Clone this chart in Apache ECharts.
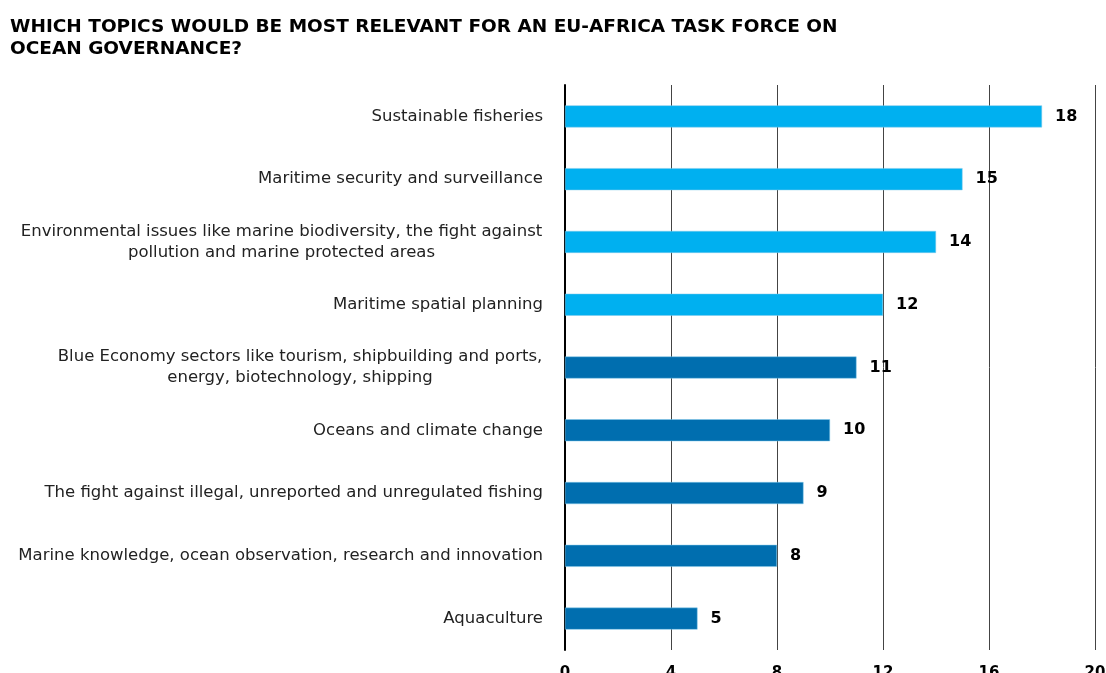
<!DOCTYPE html>
<html><head><meta charset="utf-8">
<script src="https://cdn.jsdelivr.net/npm/echarts@6/dist/echarts.min.js"></script>
<style>html,body{margin:0;padding:0;background:#fff}#c{width:1106px;height:673px}</style>
</head><body><div id="c"></div>
<script>
const categories = [
  "Sustainable fisheries",
  "Maritime security and surveillance",
  "Environmental issues like marine biodiversity, the fight against\npollution and marine protected areas",
  "Maritime spatial planning",
  "Blue Economy sectors like tourism, shipbuilding and ports,\nenergy, biotechnology, shipping",
  "Oceans and climate change",
  "The fight against illegal, unreported and unregulated fishing",
  "Marine knowledge, ocean observation, research and innovation",
  "Aquaculture"
];
const values = [18, 15, 14, 12, 11, 10, 9, 8, 5];
const highlighted = [true, true, true, true, false, false, false, false, false];
const xTicks = [0, 4, 8, 12, 16, 20];
const titleText = "WHICH TOPICS WOULD BE MOST RELEVANT FOR AN EU-AFRICA TASK FORCE ON\nOCEAN GOVERNANCE?";

const FONT = '"DejaVu Sans", Verdana, sans-serif';
const LABEL_SIZE = 16.5;
const LIGHT = '#00B0F0', DARK = '#006EAF';

// measure the widest line of each multi-line category label so lines can be centred on it
const ctx = document.createElement('canvas').getContext('2d');
ctx.font = LABEL_SIZE + 'px ' + FONT;
const rich = {};
categories.forEach((c, i) => {
  if (c.indexOf('\n') >= 0) {
    const w = Math.max(...c.split('\n').map(l => ctx.measureText(l).width));
    rich['c' + i] = {width: Math.ceil(w) + 1, align: 'center', fontFamily: FONT, fontSize: LABEL_SIZE, color: '#222', lineHeight: 21};
  }
});

const chart = echarts.init(document.getElementById('c'));
chart.setOption({
  animation: false,
  title: {
    text: titleText, left: 5, top: 11,
    textStyle: {fontFamily: FONT, fontWeight: 'bold', fontSize: 18.5, color: '#000', lineHeight: 22}
  },
  grid: {left: 565, right: 11, top: 85, bottom: 23, containLabel: false, outerBoundsMode: 'none'},
  xAxis: {
    type: 'value', min: xTicks[0], max: xTicks[xTicks.length - 1], interval: 4,
    axisLine: {show: false}, axisTick: {show: false},
    splitLine: {show: true, lineStyle: {color: '#444', width: 1}},
    axisLabel: {margin: 16, fontFamily: FONT, fontWeight: 'bold', fontSize: 15, color: '#000'}
  },
  yAxis: {
    type: 'category', data: categories, inverse: true,
    axisLine: {show: true, lineStyle: {color: '#000', width: 2}},
    axisTick: {show: false},
    axisLabel: {
      margin: 22, fontFamily: FONT, fontSize: LABEL_SIZE, color: '#222', lineHeight: 21,
      formatter: function (v, i) {
        if (v.indexOf('\n') < 0) return v;
        return v.split('\n').map(l => '{c' + i + '|' + l + '}').join('\n');
      },
      rich: rich
    }
  },
  series: [{
    type: 'bar', barWidth: 22,
    data: values.map((v, i) => ({value: v, itemStyle: {color: highlighted[i] ? LIGHT : DARK}})),
    itemStyle: {borderColor: '#7fc8ea', borderWidth: 0.5},
    label: {show: true, position: 'right', distance: 13, fontFamily: FONT, fontWeight: 'bold', fontSize: 16, color: '#000'}
  }]
});
</script></body></html>
